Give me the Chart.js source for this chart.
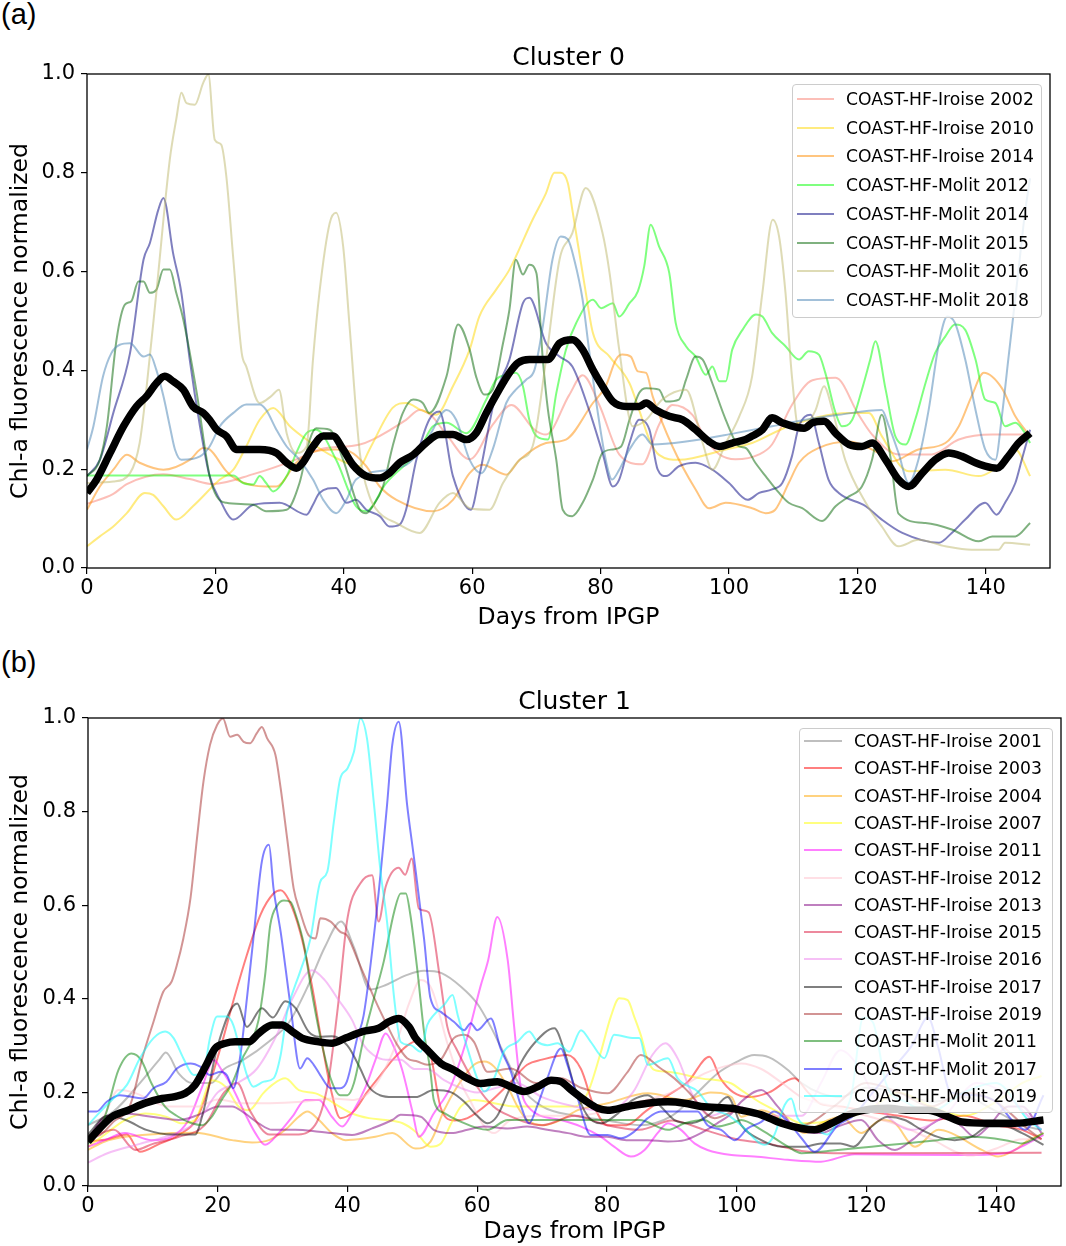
<!DOCTYPE html>
<html>
<head>
<meta charset="utf-8">
<script src="https://cdn.jsdelivr.net/npm/chart.js@4.4.0/dist/chart.umd.min.js"></script>
<style>
body { margin:0; background:#fff; width:1066px; height:1246px; position:relative; overflow:hidden; font-family:"DejaVu Sans", sans-serif; }
.panel { position:absolute; left:0; width:1066px; }
.tag { position:absolute; left:1px; font-family:"Liberation Sans", Arial, sans-serif; font-size:29px; line-height:32px; color:#000; }
.legend { position:absolute; background:rgba(255,255,255,0.8); border:1px solid #ccc; border-radius:4px; box-sizing:border-box; }
.legend .row { position:absolute; left:0; right:0; height:20px; font-size:17.2px; line-height:20px; color:#000; white-space:nowrap; }
.legend .sw { position:absolute; height:2px; top:9px; }
.legend .tx { position:absolute; top:0; }
</style>
</head>
<body>
<div class="tag" style="top:-2px">(a)</div>
<div class="tag" style="top:646px">(b)</div>
<div class="panel" style="top:0;height:640px"><canvas id="cluster0"></canvas></div>
<div class="panel" style="top:640px;height:606px"><canvas id="cluster1"></canvas></div>
<div class="legend" id="leg0" style="left:792px;top:84px;width:250px;height:234px"></div>
<div class="legend" id="leg1" style="left:799px;top:728px;width:254px;height:385px"></div>
<script>
// ticks
const xTicks = [0, 20, 40, 60, 80, 100, 120, 140];
const yTicks = [0, 0.2, 0.4, 0.6, 0.8, 1.0];

// ---------- Cluster 0 : [day, value] ----------
const c0Labels = ["COAST-HF-Iroise 2002", "COAST-HF-Iroise 2010", "COAST-HF-Iroise 2014", "COAST-HF-Molit 2012",
                  "COAST-HF-Molit 2014", "COAST-HF-Molit 2015", "COAST-HF-Molit 2016", "COAST-HF-Molit 2018"];
const c0Colors = ["rgba(250,128,114,0.5)", "rgba(255,215,0,0.5)", "rgba(255,140,0,0.5)", "rgba(0,255,0,0.5)",
                  "rgba(0,0,128,0.5)", "rgba(0,100,0,0.5)", "rgba(189,183,107,0.5)", "rgba(70,130,180,0.5)"];

const c0Iroise2002 = [[0,0.13],[4.1,0.15],[6.2,0.17],[11.9,0.19],[16,0.18],[19.6,0.17],[25.9,0.19],[32.6,0.22],[36.2,0.24],[42.5,0.25],[44.5,0.26],[49.7,0.30],[51.8,0.32],[53.5,0.31],[56,0.27],[59.6,0.22],[63.2,0.29],[66.1,0.33],[69.7,0.28],[71.5,0.27],[75.1,0.35],[77.2,0.39],[79.8,0.33],[82.9,0.23],[86.5,0.21],[89.1,0.29],[91.2,0.33],[94.3,0.31],[96.4,0.26],[98.5,0.23],[101,0.22],[104.7,0.23],[106.7,0.25],[109.8,0.33],[113,0.38],[116.6,0.385],[120.2,0.31],[122.3,0.27],[126.4,0.23],[131.6,0.23],[135.8,0.26],[141,0.27],[146.9,0.27]];
const c0Iroise2010 = [[0,0.044],[2,0.064],[4.1,0.084],[6.2,0.111],[9,0.152],[10.3,0.148],[11.9,0.125],[13.9,0.098],[16.5,0.125],[20.7,0.179],[22.8,0.199],[24.8,0.246],[26.9,0.3],[29,0.324],[31.6,0.287],[34.2,0.26],[38.3,0.226],[42.5,0.206],[44,0.24],[47.6,0.324],[49.7,0.334],[52,0.32],[54.4,0.31],[57,0.368],[59.6,0.442],[61.1,0.509],[63.7,0.563],[65.8,0.604],[69.4,0.705],[71.5,0.759],[72.8,0.8],[73.8,0.8],[74.9,0.779],[75.6,0.725],[77.7,0.557],[78.8,0.476],[81.4,0.428],[84.5,0.374],[86,0.32],[87.6,0.26],[89.1,0.229],[92.2,0.219],[99.5,0.24],[103.6,0.253],[109.3,0.287],[118.7,0.314],[121.8,0.314],[123.8,0.267],[128,0.196],[133.7,0.199],[138.9,0.186],[143,0.219],[144.6,0.24],[146.9,0.186]];
const c0Iroise2014 = [[0,0.118],[2,0.165],[4.1,0.199],[6.2,0.229],[8.2,0.213],[11.9,0.199],[16,0.219],[18.1,0.243],[19.1,0.24],[21.7,0.196],[23.3,0.179],[27.9,0.165],[29.5,0.165],[32.6,0.213],[34.7,0.233],[38.8,0.24],[40.9,0.236],[43.5,0.206],[45.6,0.165],[48.2,0.138],[53.9,0.115],[57,0.138],[59.6,0.192],[61.6,0.209],[65.3,0.189],[67.4,0.219],[71.5,0.253],[74.6,0.26],[78.8,0.334],[80.8,0.368],[82.4,0.422],[83.4,0.432],[84.7,0.428],[85.8,0.398],[87.1,0.395],[88.1,0.348],[91.2,0.246],[94.8,0.159],[96.9,0.121],[99.5,0.132],[103.6,0.121],[105.7,0.111],[107.2,0.118],[109.3,0.172],[110.9,0.213],[114,0.243],[118.7,0.256],[123.3,0.233],[125.4,0.216],[129.5,0.24],[133.7,0.253],[135.8,0.287],[137.8,0.348],[139.7,0.395],[142.5,0.364],[144.6,0.307],[146.9,0.267]];
const c0Molit2012 = [[0,0.187],[22.8,0.187],[24.3,0.172],[25.9,0.169],[26.9,0.186],[27.9,0.172],[29,0.155],[31.1,0.186],[32.6,0.233],[34.2,0.273],[35.7,0.28],[38.8,0.219],[41.9,0.125],[43.5,0.115],[46.6,0.172],[51.8,0.24],[53.9,0.287],[56,0.294],[59.1,0.273],[62.2,0.341],[63.7,0.381],[65.3,0.391],[66.8,0.395],[67.9,0.368],[68.9,0.3],[70,0.267],[71.8,0.26],[73.1,0.354],[74.6,0.442],[76.2,0.496],[78.8,0.543],[80.1,0.526],[81.9,0.536],[82.9,0.509],[84.5,0.536],[85.8,0.56],[86.8,0.611],[87.8,0.695],[89.1,0.651],[90.7,0.597],[91.7,0.496],[93.3,0.449],[94.8,0.428],[96.4,0.391],[97.4,0.408],[98.5,0.378],[99.5,0.378],[100.5,0.442],[102.1,0.482],[104.2,0.513],[105.2,0.509],[106.7,0.476],[108.8,0.449],[110.9,0.422],[112.4,0.439],[114,0.432],[115,0.395],[116.6,0.314],[117.6,0.287],[119.2,0.3],[120.7,0.361],[122,0.422],[122.8,0.459],[124.4,0.361],[125.9,0.267],[127.5,0.25],[129,0.3],[130.6,0.374],[132.1,0.435],[133.7,0.469],[135.2,0.493],[136.8,0.482],[138.4,0.422],[139.9,0.341],[141.5,0.334],[143,0.287],[144.6,0.294],[146.1,0.273],[146.9,0.253]];
const c0Molit2014 = [[0,0.186],[2,0.219],[4.1,0.314],[6.7,0.435],[8.8,0.624],[9.8,0.658],[11.1,0.725],[11.9,0.749],[13.4,0.638],[14.7,0.557],[16,0.422],[17.6,0.287],[19.1,0.186],[20.7,0.138],[22.8,0.098],[25.9,0.128],[30,0.132],[34.2,0.108],[35.2,0.128],[36.2,0.152],[38.8,0.162],[40.4,0.132],[41.9,0.138],[43.5,0.118],[45.6,0.105],[47.1,0.084],[48.7,0.088],[49.7,0.118],[51.3,0.219],[53.3,0.3],[54.9,0.317],[57,0.186],[59.8,0.118],[61.1,0.186],[63.7,0.354],[65.8,0.422],[67.9,0.536],[68.9,0.547],[71.5,0.455],[73.6,0.428],[75.6,0.408],[78.2,0.32],[80.3,0.233],[81.9,0.165],[82.9,0.179],[84.5,0.253],[86,0.3],[87.6,0.28],[88.9,0.199],[90.2,0.186],[92.2,0.206],[94.8,0.213],[97.4,0.199],[100,0.172],[102.9,0.138],[104.7,0.152],[106.7,0.159],[108.3,0.172],[109.8,0.226],[110.9,0.287],[112.7,0.31],[114,0.253],[115.5,0.179],[117.1,0.152],[121.3,0.125],[123.8,0.098],[127,0.071],[132.7,0.051],[134.7,0.071],[136.8,0.098],[139.9,0.132],[141.7,0.108],[143,0.132],[144.6,0.172],[145.6,0.219],[146.9,0.28]];
const c0Molit2015 = [[0,0.186],[2,0.219],[3.1,0.287],[4.6,0.462],[5.9,0.533],[6.9,0.54],[8,0.58],[8.8,0.58],[9.8,0.557],[10.8,0.563],[11.9,0.604],[12.9,0.604],[13.9,0.557],[15,0.503],[17.1,0.354],[19.1,0.186],[20.2,0.145],[21.7,0.132],[25.9,0.128],[27.9,0.115],[31.1,0.118],[33.1,0.172],[34.7,0.26],[35.7,0.283],[37.8,0.28],[39.9,0.219],[42.5,0.118],[43.5,0.111],[44.5,0.125],[46.1,0.165],[47.6,0.246],[49.2,0.314],[50.8,0.341],[52.3,0.334],[53.3,0.314],[56,0.388],[57.8,0.493],[59.6,0.442],[60.6,0.388],[61.9,0.351],[63.2,0.361],[64.8,0.455],[65.8,0.523],[66.8,0.624],[67.9,0.594],[68.9,0.614],[70,0.597],[71,0.422],[71.8,0.32],[73.1,0.219],[74.1,0.118],[75.6,0.105],[77.2,0.132],[78.8,0.179],[80.3,0.233],[81.9,0.24],[83.2,0.246],[84.5,0.3],[86,0.354],[87.1,0.364],[89.1,0.361],[90.2,0.337],[92.2,0.341],[93.3,0.381],[94.8,0.428],[95.9,0.422],[97.4,0.374],[99.5,0.3],[101.6,0.246],[102.6,0.243],[104.1,0.213],[105.7,0.186],[107.8,0.152],[109.3,0.132],[111.4,0.121],[114.5,0.095],[116.6,0.125],[118.7,0.145],[120.7,0.165],[122.3,0.22],[123.8,0.31],[125.2,0.22],[126.4,0.11],[130.6,0.091],[134.7,0.078],[138.9,0.054],[141,0.064],[144.6,0.064],[146.9,0.091]];
const c0Molit2016 = [[0,0.172],[4.1,0.175],[6.7,0.192],[8.2,0.253],[9.3,0.368],[10.8,0.557],[12.9,0.827],[13.9,0.908],[14.7,0.962],[15.5,0.941],[16.8,0.938],[18.1,0.982],[18.9,0.999],[19.9,0.867],[20.9,0.857],[21.7,0.793],[22.8,0.624],[24.1,0.435],[24.8,0.408],[26.9,0.334],[28.7,0.348],[29.9,0.361],[31.1,0.273],[32.6,0.233],[34.2,0.246],[35.2,0.422],[36.2,0.557],[37.8,0.698],[38.8,0.719],[39.9,0.651],[40.9,0.489],[42.5,0.233],[44,0.145],[45.6,0.111],[48.2,0.091],[51.8,0.071],[54.9,0.132],[57,0.152],[59.6,0.121],[62.7,0.118],[64.8,0.172],[67.4,0.219],[69.4,0.246],[71.5,0.422],[73.6,0.624],[75.6,0.678],[77.7,0.769],[80.3,0.678],[81.4,0.597],[82.9,0.442],[85,0.287],[87.1,0.3],[89.6,0.341],[93.3,0.361],[95.9,0.253],[97.4,0.199],[99.5,0.253],[101.6,0.307],[103.6,0.388],[105.2,0.557],[106.8,0.705],[107.8,0.671],[108.8,0.557],[109.8,0.388],[110.9,0.28],[111.9,0.287],[113.5,0.32],[114.8,0.368],[116.1,0.32],[118.1,0.219],[121.3,0.132],[123.8,0.084],[126.4,0.044],[129.5,0.057],[133.7,0.044],[137.8,0.037],[142,0.037],[143,0.051],[146.9,0.047]];
const c0Molit2018 = [[0,0.24],[1,0.287],[2.5,0.388],[3.8,0.435],[5.1,0.452],[6.7,0.455],[8.8,0.428],[9.8,0.432],[10.8,0.401],[11.9,0.348],[12.9,0.287],[13.7,0.24],[14.7,0.219],[17.6,0.226],[19.1,0.246],[20.7,0.287],[22.8,0.314],[24.8,0.331],[26.9,0.331],[27.9,0.32],[29.5,0.28],[31.1,0.246],[33.1,0.219],[35.2,0.179],[36.8,0.138],[38.8,0.111],[40.4,0.138],[41.9,0.179],[47.1,0.199],[50.2,0.213],[53.3,0.267],[56,0.32],[57.5,0.3],[59.6,0.219],[61.4,0.192],[63.2,0.24],[65.3,0.334],[66.8,0.361],[68.4,0.381],[69.7,0.401],[71,0.489],[72.5,0.624],[73.8,0.671],[74.9,0.665],[75.9,0.624],[77.2,0.543],[78.2,0.442],[79.5,0.32],[80.8,0.219],[81.8,0.179],[82.9,0.199],[84.5,0.24],[86.5,0.27],[88.1,0.25],[93.3,0.256],[101,0.273],[106.7,0.287],[111.9,0.3],[117.1,0.31],[123.8,0.32],[124.9,0.287],[126.4,0.233],[128,0.172],[129.5,0.219],[131.1,0.32],[132.7,0.455],[134,0.509],[135.2,0.496],[136.8,0.422],[138.4,0.32],[139.9,0.24],[141.5,0.219],[142.5,0.307],[143.5,0.422],[145.1,0.604],[146.1,0.719],[146.9,0.789]];
const c0Mean = [[0,0.152],[1.5,0.179],[3.6,0.233],[5.7,0.287],[7.7,0.327],[9.3,0.348],[10.8,0.374],[12.1,0.388],[13.4,0.378],[15,0.361],[16.5,0.327],[18.1,0.314],[19.1,0.3],[20.2,0.28],[21.7,0.267],[23.3,0.24],[26.9,0.24],[29.5,0.233],[31.1,0.213],[32.6,0.202],[33.6,0.213],[35.2,0.246],[36.8,0.267],[38.3,0.267],[39.9,0.24],[41.4,0.209],[43.5,0.186],[45.6,0.182],[47.1,0.192],[48.7,0.213],[50.8,0.229],[52.8,0.253],[54.9,0.27],[57,0.27],[59.1,0.26],[60.6,0.273],[62.2,0.314],[64.2,0.361],[65.8,0.395],[67.1,0.415],[68.9,0.422],[71.8,0.422],[73.6,0.455],[75.6,0.462],[77.2,0.442],[78.8,0.401],[80.3,0.368],[81.9,0.337],[84,0.327],[86,0.327],[87.1,0.334],[88.6,0.32],[90.7,0.307],[92.8,0.3],[94.8,0.28],[96.9,0.256],[98.5,0.246],[100.5,0.253],[102.6,0.26],[103.6,0.267],[105.2,0.28],[106.7,0.304],[108.3,0.294],[111.7,0.283],[113,0.294],[114.8,0.297],[116.6,0.273],[118.7,0.25],[120.7,0.246],[122.3,0.253],[124.4,0.219],[126.4,0.179],[128,0.165],[130.1,0.192],[132.1,0.219],[134.2,0.233],[136.3,0.226],[138.4,0.213],[139.9,0.206],[141.7,0.202],[143.5,0.226],[145.1,0.253],[146.9,0.273]];

// ---------- Cluster 1 : [day, value] ----------
const c1Labels = ["COAST-HF-Iroise 2001", "COAST-HF-Iroise 2003", "COAST-HF-Iroise 2004", "COAST-HF-Iroise 2007",
                  "COAST-HF-Iroise 2011", "COAST-HF-Iroise 2012", "COAST-HF-Iroise 2013", "COAST-HF-Iroise 2015",
                  "COAST-HF-Iroise 2016", "COAST-HF-Iroise 2017", "COAST-HF-Iroise 2019", "COAST-HF-Molit 2011",
                  "COAST-HF-Molit 2017", "COAST-HF-Molit 2019"];
const c1Colors = ["rgba(128,128,128,0.5)", "rgba(255,0,0,0.5)", "rgba(255,165,0,0.5)", "rgba(255,255,0,0.5)",
                  "rgba(255,0,255,0.5)", "rgba(255,192,203,0.5)", "rgba(128,0,128,0.5)", "rgba(220,20,60,0.5)",
                  "rgba(238,130,238,0.5)", "rgba(0,0,0,0.5)", "rgba(165,42,42,0.5)", "rgba(0,128,0,0.5)",
                  "rgba(0,0,255,0.5)", "rgba(0,255,255,0.5)"];

const c1Iroise2001 = [[0,0.13],[4,0.16],[8,0.22],[11,0.27],[12,0.285],[14,0.24],[16,0.22],[19,0.22],[21,0.25],[24,0.27],[28,0.31],[31,0.35],[34,0.43],[36.5,0.51],[39,0.565],[41,0.51],[43.5,0.42],[46,0.43],[49,0.45],[51.8,0.46],[54.5,0.455],[57.5,0.426],[60,0.39],[62.1,0.34],[63.6,0.298],[66.7,0.212],[70,0.17],[75,0.15],[80,0.14],[85,0.13],[90,0.15],[94,0.2],[97,0.24],[100,0.265],[102.7,0.28],[105,0.275],[107.9,0.248],[110,0.22],[113,0.198],[116,0.19],[120,0.21],[125,0.2],[130,0.18],[135,0.19],[140,0.16],[144,0.13],[147,0.12]];
const c1Iroise2003 = [[0,0.095],[3,0.1],[6,0.11],[8,0.073],[11,0.09],[14,0.109],[17,0.15],[20.4,0.294],[22.5,0.4],[24.5,0.494],[26.6,0.58],[28.6,0.625],[29.7,0.632],[31,0.61],[32.7,0.543],[34.5,0.43],[36,0.31],[37.4,0.209],[38.9,0.145],[41,0.16],[43,0.2],[45.1,0.237],[47,0.27],[49.2,0.3],[50.7,0.31],[52.8,0.28],[54.4,0.166],[56.5,0.14],[58.5,0.145],[62,0.18],[65,0.22],[67.7,0.259],[70,0.27],[73.9,0.28],[76,0.25],[78,0.17],[80.1,0.13],[83,0.13],[86,0.16],[89,0.19],[92.5,0.223],[95.8,0.276],[97.5,0.23],[99.5,0.2],[102,0.19],[105,0.2],[108.9,0.23],[111,0.2],[113,0.175],[116,0.17],[120,0.16],[125,0.15],[130,0.14],[135,0.15],[140,0.13],[144,0.12],[147,0.1]];
const c1Iroise2004 = [[0,0.077],[2.6,0.095],[5.7,0.105],[12.9,0.113],[16.5,0.114],[22.2,0.098],[25.3,0.093],[27.9,0.098],[30.4,0.12],[32.5,0.148],[33.8,0.159],[35.6,0.141],[37.6,0.113],[39.7,0.098],[44.3,0.105],[46.9,0.113],[50.5,0.08],[52.8,0.095],[54.9,0.162],[56.9,0.212],[59.5,0.259],[61.1,0.266],[62.6,0.255],[64.7,0.212],[66.2,0.17],[67.7,0.141],[70.3,0.13],[72.9,0.141],[75.5,0.162],[80.1,0.177],[86.3,0.198],[92,0.184],[96,0.2],[99.2,0.19],[100.7,0.148],[103.8,0.162],[107.9,0.134],[110.5,0.113],[113,0.134],[116.1,0.148],[119.2,0.113],[122.3,0.141],[124.4,0.134],[127.5,0.084],[131.1,0.12],[133.1,0.113],[137.8,0.077],[140.3,0.063],[142.9,0.077],[145,0.098],[147.3,0.113]];
const c1Iroise2007 = [[0,0.084],[2.6,0.11],[5.7,0.141],[8.8,0.155],[12,0.148],[14.5,0.134],[16.5,0.141],[19.1,0.226],[21.2,0.212],[23.2,0.17],[24.8,0.162],[27,0.198],[28.4,0.216],[30.4,0.23],[32.5,0.205],[35.1,0.198],[37.1,0.184],[38.7,0.17],[40.7,0.155],[43.3,0.145],[45.9,0.141],[48.5,0.134],[50.5,0.116],[52.8,0.084],[54.4,0.091],[56,0.134],[57.5,0.17],[59.5,0.184],[62.6,0.177],[65.7,0.17],[75,0.17],[77,0.198],[79,0.283],[80.6,0.362],[81.9,0.401],[83.2,0.397],[84.2,0.362],[85.3,0.319],[86.3,0.269],[87.3,0.248],[89.4,0.244],[94.5,0.23],[99.2,0.219],[100.7,0.205],[103.8,0.177],[106.9,0.155],[110,0.134],[115,0.14],[120,0.16],[125,0.2],[130,0.17],[135,0.15],[140,0.18],[144,0.22],[147,0.235]];
const c1Iroise2011 = [[0,0.084],[2.6,0.098],[5.7,0.113],[9.8,0.098],[12.9,0.105],[15.5,0.141],[17.6,0.212],[19.4,0.269],[20.6,0.248],[22.2,0.212],[24.2,0.155],[25.8,0.113],[27.3,0.088],[29.4,0.113],[31.5,0.148],[33.5,0.184],[35.6,0.184],[37.6,0.148],[39.2,0.127],[40.7,0.155],[42.8,0.212],[44.3,0.269],[45.9,0.326],[46.9,0.305],[48.4,0.25],[50,0.16],[51,0.105],[53.3,0.155],[55.9,0.212],[58.5,0.319],[60.5,0.426],[61.7,0.483],[63.1,0.575],[64.7,0.483],[65.7,0.34],[66.7,0.212],[67.8,0.17],[72.9,0.141],[76,0.127],[79.1,0.105],[81.1,0.084],[83.7,0.063],[85.8,0.077],[87.8,0.113],[89.4,0.134],[91.4,0.12],[93.5,0.091],[95.5,0.077],[99.2,0.066],[102.7,0.063],[107.9,0.056],[113,0.052],[118.2,0.068],[133.6,0.066],[141.4,0.07],[143.9,0.084],[147.3,0.109]];
const c1Iroise2012 = [[0,0.1],[2.5,0.15],[4.7,0.205],[7,0.2],[12.4,0.17],[17,0.17],[20,0.185],[23.7,0.177],[28,0.177],[33,0.18],[37.6,0.187],[41,0.184],[44,0.21],[47.4,0.3],[49.5,0.39],[51.3,0.44],[53,0.42],[55.4,0.305],[57.5,0.22],[59,0.18],[61.1,0.127],[62.6,0.113],[65,0.14],[70,0.15],[75,0.15],[80,0.16],[85,0.18],[90,0.2],[95,0.24],[98,0.255],[100.7,0.262],[103.8,0.25],[107,0.22],[110,0.19],[115,0.17],[120,0.15],[125,0.13],[130,0.1],[136,0.065],[140,0.08],[144,0.1],[147,0.1]];
const c1Iroise2013 = [[0,0.1],[2.6,0.148],[5.7,0.155],[9.8,0.148],[14,0.141],[17,0.152],[20.1,0.17],[22.2,0.17],[24.2,0.155],[26.3,0.134],[28.4,0.12],[32,0.12],[35.6,0.116],[37.6,0.113],[40.7,0.109],[43.8,0.123],[46.9,0.141],[48.2,0.152],[51.3,0.148],[53.3,0.12],[56,0.113],[58.5,0.12],[61.1,0.127],[64.7,0.123],[67.7,0.127],[70.8,0.12],[74,0.113],[77,0.105],[80,0.105],[83,0.098],[86.3,0.098],[89.4,0.095],[92,0.098],[94.5,0.113],[97,0.134],[99.2,0.155],[100.7,0.18],[103.8,0.205],[106.3,0.17],[109.4,0.12],[113,0.113],[115.6,0.127],[119.2,0.141],[121.8,0.098],[124.4,0.077],[127,0.098],[129.5,0.127],[132.6,0.148],[134.7,0.127],[136.7,0.105],[138.8,0.127],[141.9,0.17],[144,0.17],[147,0.113]];
const c1Iroise2015 = [[0,0.1],[4,0.12],[7.3,0.077],[10,0.09],[14,0.105],[18,0.13],[21,0.2],[23,0.22],[25,0.16],[28,0.11],[32,0.11],[35,0.13],[37,0.22],[38.5,0.38],[40,0.572],[42,0.647],[43.8,0.664],[44.8,0.565],[45.9,0.64],[47.9,0.68],[48.9,0.665],[49.9,0.7],[51,0.593],[52.5,0.585],[54.2,0.45],[55.4,0.34],[56.9,0.29],[60,0.212],[62.5,0.17],[65,0.15],[70,0.13],[75,0.15],[80,0.13],[85,0.12],[90,0.14],[95,0.12],[100,0.1],[105,0.09],[110,0.075],[115,0.07],[147,0.071]];
const c1Iroise2016 = [[0,0.05],[3,0.07],[8,0.09],[13,0.11],[17,0.14],[20,0.2],[23,0.22],[26,0.25],[29,0.32],[31.5,0.4],[34.5,0.461],[36.5,0.44],[38.5,0.4],[40.7,0.355],[42.3,0.305],[44,0.28],[45.9,0.27],[48.2,0.27],[50.3,0.25],[52.3,0.25],[54.9,0.226],[57,0.212],[60,0.2],[63,0.21],[66,0.22],[70,0.19],[75,0.17],[80,0.16],[84,0.2],[87,0.28],[89,0.305],[91,0.27],[93,0.2],[96,0.15],[100,0.17],[105,0.15],[110,0.15],[113,0.22],[116,0.29],[119,0.25],[122,0.17],[127,0.12],[132,0.15],[137,0.22],[141,0.2],[147,0.12]];
const c1Iroise2017 = [[0,0.11],[3,0.15],[6,0.14],[9,0.12],[13,0.11],[16.5,0.11],[17.8,0.16],[20,0.3],[23,0.39],[24.5,0.34],[26.8,0.38],[28.5,0.36],[30.4,0.395],[32,0.38],[34,0.33],[35.6,0.319],[37.6,0.32],[40,0.3],[42,0.25],[43.3,0.212],[45,0.194],[47,0.19],[50.5,0.19],[53.3,0.205],[56,0.2],[58,0.18],[60,0.15],[61.6,0.134],[63,0.148],[64.7,0.198],[66.7,0.262],[68.8,0.305],[71.9,0.337],[73.4,0.29],[75,0.212],[77,0.15],[79.1,0.134],[81.7,0.155],[84,0.184],[86.3,0.194],[88.3,0.17],[90.4,0.141],[93,0.134],[96,0.155],[98.6,0.19],[100.7,0.13],[103.8,0.098],[107,0.084],[110.5,0.084],[113,0.091],[116,0.091],[118,0.084],[120.8,0.127],[123.3,0.148],[125.9,0.141],[128.5,0.12],[131,0.105],[133.6,0.098],[136.2,0.105],[138.8,0.127],[141.4,0.127],[144,0.113],[147.3,0.088]];
const c1Iroise2019 = [[0,0.102],[1.9,0.109],[3.9,0.137],[6.5,0.173],[8.5,0.28],[10.1,0.351],[11.6,0.415],[12.9,0.437],[13.7,0.472],[14.7,0.529],[15.8,0.615],[16.8,0.743],[17.8,0.864],[18.8,0.942],[19.9,0.985],[20.8,0.999],[21.9,0.96],[23,0.964],[24,0.949],[25,0.946],[26,0.967],[26.8,0.981],[27.6,0.957],[28.9,0.921],[29.7,0.85],[30.7,0.743],[31.7,0.636],[32.7,0.586],[34,0.536],[35.1,0.529],[35.8,0.572],[37.4,0.565],[38.9,0.543],[39.9,0.536],[41.5,0.486],[43,0.437],[44.6,0.387],[46.1,0.344],[47.7,0.301],[49.2,0.273],[50.8,0.266],[52.3,0.259],[54.4,0.27],[56.4,0.316],[58,0.323],[59.5,0.308],[61.6,0.244],[65.2,0.251],[69,0.22],[72.9,0.23],[76,0.21],[80.1,0.198],[83.2,0.244],[85.2,0.28],[88.3,0.251],[90.4,0.23],[92.5,0.202],[96.6,0.145],[100,0.16],[105,0.15],[110,0.13],[115,0.17],[120,0.22],[125,0.2],[130,0.17],[135,0.2],[140,0.18],[145,0.12],[147,0.1]];
const c1Molit2011 = [[0,0.09],[2.6,0.148],[4.7,0.248],[6.7,0.283],[8.2,0.269],[9.8,0.219],[11.9,0.169],[13.9,0.148],[16,0.134],[17.6,0.13],[19.1,0.148],[20.6,0.184],[22.2,0.219],[23.7,0.27],[25.3,0.312],[26.3,0.355],[27.3,0.45],[28.1,0.558],[29.2,0.6],[30.2,0.61],[31.2,0.607],[32.2,0.572],[33.3,0.515],[34.3,0.43],[35.8,0.32],[37.4,0.23],[38.9,0.194],[40,0.194],[41,0.22],[42.5,0.316],[44.1,0.402],[45.6,0.48],[47.2,0.586],[48.2,0.625],[49,0.625],[49.7,0.579],[50.8,0.458],[51.8,0.33],[52.8,0.244],[53.3,0.184],[55,0.155],[56.9,0.141],[61.6,0.12],[64.7,0.141],[67.8,0.141],[78,0.141],[85,0.141],[89.4,0.12],[92,0.134],[95,0.141],[97,0.127],[99.2,0.134],[100.7,0.141],[103.8,0.12],[107.9,0.084],[110,0.07],[115.6,0.077],[120.8,0.084],[126,0.091],[131,0.098],[136.2,0.105],[141.4,0.098],[144,0.091],[147.3,0.113]];
const c1Molit2017 = [[0,0.159],[1.3,0.159],[2.9,0.18],[4.9,0.194],[8.5,0.187],[10.1,0.209],[12.1,0.223],[13.7,0.251],[15.8,0.262],[17.3,0.255],[18.8,0.237],[20.4,0.244],[21.4,0.237],[22.4,0.209],[23.5,0.28],[24.5,0.401],[25.5,0.529],[26.8,0.693],[27.9,0.729],[28.6,0.636],[29.7,0.543],[31.2,0.387],[32.7,0.251],[33.8,0.273],[34.8,0.259],[35.8,0.237],[37.4,0.209],[38.9,0.209],[39.9,0.223],[41.5,0.316],[42.5,0.365],[44.6,0.6],[46.1,0.814],[46.9,0.942],[47.9,0.992],[49.2,0.814],[50.2,0.707],[51.8,0.529],[52.8,0.401],[54.4,0.372],[56.4,0.351],[58,0.333],[59,0.348],[60,0.333],[62.1,0.358],[63.6,0.294],[65.2,0.244],[66.7,0.173],[68,0.134],[69.3,0.173],[70.8,0.23],[72.9,0.294],[73.9,0.259],[75.5,0.187],[77.5,0.109],[80.1,0.109],[82.2,0.102],[84.2,0.116],[86.3,0.145],[88.3,0.159],[94,0.159],[95.5,0.13],[97.6,0.12],[99.7,0.098],[101.7,0.123],[103.8,0.137],[105.8,0.159],[107.9,0.137],[110,0.102],[112,0.073],[115.6,0.13],[118,0.15],[121,0.2],[124,0.25],[127,0.3],[129.5,0.36],[131,0.3],[133,0.2],[136.7,0.194],[140,0.18],[142.5,0.14],[144.5,0.12],[147.3,0.194]];
const c1Molit2019 = [[0,0.13],[1.9,0.159],[3.9,0.187],[6,0.216],[8,0.273],[10.1,0.316],[11.9,0.33],[13.2,0.316],[14.7,0.273],[16.3,0.237],[17.8,0.244],[18.8,0.316],[19.9,0.362],[21.4,0.362],[22.4,0.344],[23.5,0.287],[24.5,0.237],[25.5,0.212],[27.1,0.223],[28.6,0.23],[29.7,0.28],[30.7,0.372],[32.7,0.458],[34.3,0.529],[35.8,0.65],[36.9,0.672],[37.9,0.778],[38.9,0.871],[40,0.892],[41,0.928],[42,0.999],[43,0.957],[44.1,0.814],[45.1,0.672],[46.1,0.565],[47.2,0.401],[48.2,0.308],[49.7,0.301],[51.3,0.287],[52.3,0.344],[53.3,0.365],[54.9,0.387],[56.2,0.408],[57,0.365],[58.5,0.294],[60,0.23],[61.1,0.202],[62.6,0.23],[64.1,0.287],[66.2,0.308],[68,0.33],[69.3,0.308],[70.8,0.301],[72.4,0.305],[74.2,0.287],[76,0.333],[77.5,0.308],[79.6,0.273],[81.1,0.323],[84.2,0.316],[85,0.316],[86.3,0.259],[89.4,0.273],[90.9,0.23],[94,0.202],[96.1,0.166],[98.6,0.152],[100.7,0.13],[104.3,0.088],[105.8,0.109],[107.4,0.173],[108.4,0.187],[109.4,0.145],[112,0.123],[114,0.11],[115.6,0.14],[117.7,0.195],[119.5,0.36],[121,0.35],[123,0.22],[126,0.18],[130,0.16],[135,0.2],[140,0.22],[145,0.14],[147,0.12]];
const c1Mean = [[0,0.095],[1.6,0.12],[3.7,0.148],[6.2,0.162],[8.8,0.177],[11.4,0.187],[13.4,0.191],[15,0.198],[16.5,0.216],[18.1,0.255],[19.6,0.294],[21.2,0.305],[22.7,0.308],[24.8,0.308],[26.3,0.326],[28.4,0.344],[29.9,0.344],[31.5,0.33],[33,0.316],[35.6,0.308],[37.6,0.305],[39.7,0.316],[42.3,0.33],[44.8,0.337],[46.4,0.351],[47.9,0.358],[49.5,0.34],[50.5,0.316],[52.3,0.291],[54.4,0.262],[56.4,0.248],[58.5,0.23],[60.5,0.219],[63.1,0.223],[65.2,0.212],[67.2,0.202],[69.3,0.212],[71.4,0.226],[72.9,0.223],[74.5,0.205],[76.5,0.184],[78.6,0.166],[80.1,0.162],[83.2,0.17],[86.3,0.177],[89.4,0.18],[92,0.177],[94.5,0.17],[99.2,0.166],[100.7,0.162],[103.8,0.152],[106.9,0.134],[110,0.123],[112,0.12],[114.6,0.134],[117.2,0.152],[119.7,0.162],[123.3,0.166],[126.4,0.162],[129.5,0.162],[132.6,0.148],[134.7,0.137],[138.8,0.134],[142.9,0.134],[147.3,0.141]];

const c0Series = [c0Iroise2002, c0Iroise2010, c0Iroise2014, c0Molit2012, c0Molit2014, c0Molit2015, c0Molit2016, c0Molit2018];
const c1Series = [c1Iroise2001, c1Iroise2003, c1Iroise2004, c1Iroise2007, c1Iroise2011, c1Iroise2012, c1Iroise2013,
                  c1Iroise2015, c1Iroise2016, c1Iroise2017, c1Iroise2019, c1Molit2011, c1Molit2017, c1Molit2019];

const FONT = "'DejaVu Sans', sans-serif";

// frame + title drawn on the canvas
const framePlugin = {
  id: 'frame',
  afterDraw(chart, args, opts) {
    const { ctx, chartArea: a } = chart;
    ctx.save();
    ctx.strokeStyle = '#000';
    ctx.lineWidth = 1.3;
    ctx.strokeRect(a.left, a.top, a.right - a.left, a.bottom - a.top);
    ctx.fillStyle = '#000';
    ctx.font = '25px ' + FONT;
    ctx.textAlign = 'center';
    ctx.textBaseline = 'alphabetic';
    ctx.fillText(opts.title, (a.left + a.right) / 2, a.top - 9);
    ctx.restore();
  }
};

function makePanel(id, labels, series, colors, mean, title, lay) {
  const n = series.length;
  const datasets = series.map((s, i) => ({
    label: labels[i], data: s, borderColor: colors[i], borderWidth: 2, order: n - i
  }));
  datasets.push({ label: 'mean', data: mean, borderColor: '#000', borderWidth: 7.5, order: 0 });

  new Chart(document.getElementById(id), {
    type: 'line',
    data: { datasets },
    plugins: [framePlugin],
    options: {
      animation: false,
      responsive: true,
      maintainAspectRatio: false,
      layout: { padding: { left: 0, top: lay.top, right: lay.right, bottom: 0 } },
      elements: { point: { radius: 0 }, line: { cubicInterpolationMode: 'monotone', fill: false } },
      plugins: { legend: { display: false }, tooltip: { enabled: false }, frame: { title } },
      scales: {
        x: {
          type: 'linear', min: 0, max: 150,
          afterFit: s => { s.height = lay.xh; },
          afterBuildTicks: s => { s.ticks = xTicks.map(v => ({ value: v })); },
          ticks: { font: { family: FONT, size: 21 }, color: '#000', padding: 2, maxRotation: 0, autoSkip: false },
          grid: { drawOnChartArea: false, drawTicks: true, tickLength: 6, color: '#000', lineWidth: 1.2 },
          border: { display: false },
          title: { display: true, text: 'Days from IPGP', color: '#000', font: { family: FONT, size: 23.5 },
                   padding: { top: 0, bottom: lay.xtb } }
        },
        y: {
          type: 'linear', min: 0, max: 1,
          afterFit: s => { s.width = lay.yw; },
          afterBuildTicks: s => { s.ticks = yTicks.map(v => ({ value: v })); },
          ticks: { font: { family: FONT, size: 21 }, color: '#000', padding: 6, callback: v => v.toFixed(1) },
          grid: { drawOnChartArea: false, drawTicks: true, tickLength: 6, color: '#000', lineWidth: 1.2 },
          border: { display: false },
          title: { display: true, text: 'Chl-a fluorescence normalized', color: '#000', font: { family: FONT, size: 23.5 },
                   padding: { top: 7, bottom: 0 } }
        }
      }
    }
  });
}

function buildLegend(id, labels, colors, first, step, swLeft, swWidth, textLeft) {
  const box = document.getElementById(id);
  labels.forEach((name, i) => {
    const row = document.createElement('div');
    row.className = 'row';
    row.style.top = (first + i * step - 10) + 'px';
    row.innerHTML = `<span class="sw" style="left:${swLeft}px;width:${swWidth}px;background:${colors[i]}"></span>` +
                    `<span class="tx" style="left:${textLeft}px">${name}</span>`;
    box.appendChild(row);
  });
}

makePanel('cluster0', c0Labels, c0Series, c0Colors, c0Mean, 'Cluster 0', { top: 74, right: 16, xh: 72, yw: 87, xtb: 8 });
makePanel('cluster1', c1Labels, c1Series, c1Colors, c1Mean, 'Cluster 1', { top: 78, right: 5, xh: 60, yw: 88, xtb: 0 });

buildLegend('leg0', c0Labels, c0Colors, 14, 28.7, 4, 37, 53);
buildLegend('leg1', c1Labels, c1Colors, 12, 27.3, 4, 38, 54);
</script>
</body>
</html>
